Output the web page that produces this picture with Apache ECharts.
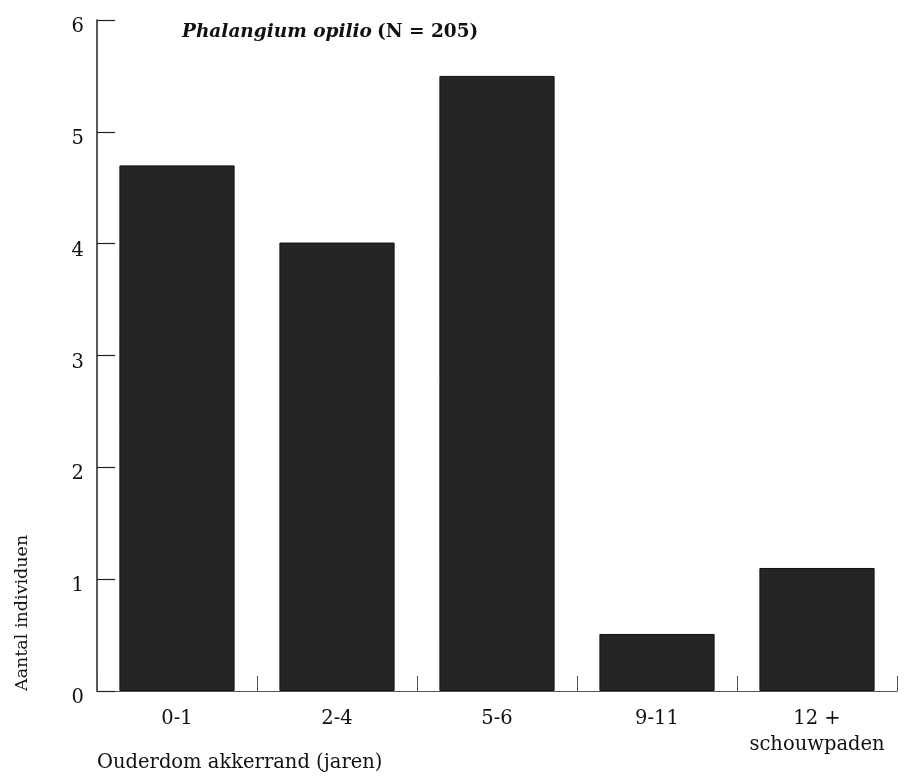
<!DOCTYPE html>
<html>
<head>
<meta charset="utf-8">
<script src="https://cdn.jsdelivr.net/npm/echarts@6/dist/echarts.min.js"></script>
<style>
  html, body { margin: 0; padding: 0; background: #fff; }
  #chart { width: 904px; height: 780px; }
</style>
</head>
<body>
<div id="chart"></div>
<script>
// leeftijdsklassen van de akkerrand
var categories = ['0-1', '2-4', '5-6', '9-11', '12 +\nschouwpaden'];
// aantal individuen per klasse
var counts = [4.7, 4.01, 5.5, 0.51, 1.1];
var yTicks = [0, 1, 2, 3, 4, 5, 6];

var fontFam = '"DejaVu Serif", serif';
var myChart = echarts.init(document.getElementById('chart'));

var option = {
    backgroundColor: '#fff',
    animation: false,
    title: {
        left: 177,
        top: 18,
        text: '{a|Phalangium opilio} {b|(N = 205)}',
        textStyle: {
            rich: {
                a: { fontFamily: fontFam, fontStyle: 'italic', fontWeight: 'bold', fontSize: 18.5, color: '#111' },
                b: { fontFamily: fontFam, fontWeight: 'bold', fontSize: 18.5, color: '#111' }
            }
        }
    },
    grid: { left: 97, right: 7, top: 20, bottom: 89, containLabel: false },
    xAxis: {
        type: 'category',
        data: categories,
        axisLine: { lineStyle: { color: '#555', width: 1.2 } },
        axisTick: { show: true, inside: true, interval: 0, length: 15, lineStyle: { color: '#555' } },
        axisLabel: { interval: 0, fontFamily: fontFam, fontSize: 19.5, color: '#111', margin: 15, lineHeight: 26 }
    },
    yAxis: {
        type: 'value',
        min: 0,
        max: yTicks[yTicks.length - 1],
        interval: 1,
        splitLine: { show: false },
        axisLine: { show: true, lineStyle: { color: '#222', width: 1.5 } },
        axisTick: { show: true, inside: true, length: 18, lineStyle: { color: '#222', width: 1.2 } },
        axisLabel: { fontFamily: fontFam, fontSize: 19.5, color: '#111', margin: 13, verticalAlign: 'top', lineHeight: 14 }
    },
    graphic: [
        {
            type: 'text',
            left: 97,
            top: 753,
            style: { text: 'Ouderdom akkerrand (jaren)', font: '19.5px ' + fontFam, fill: '#111' }
        },
        {
            type: 'text',
            x: 13,
            y: 691,
            rotation: Math.PI / 2,
            style: { text: 'Aantal individuen', font: '17.5px ' + fontFam, fill: '#111', align: 'left', verticalAlign: 'top' }
        }
    ],
    series: [{
        type: 'bar',
        data: counts,
        barWidth: '72%',
        itemStyle: { color: '#252525', borderColor: '#111', borderWidth: 1 }
    }]
};

myChart.setOption(option);
</script>
</body>
</html>
